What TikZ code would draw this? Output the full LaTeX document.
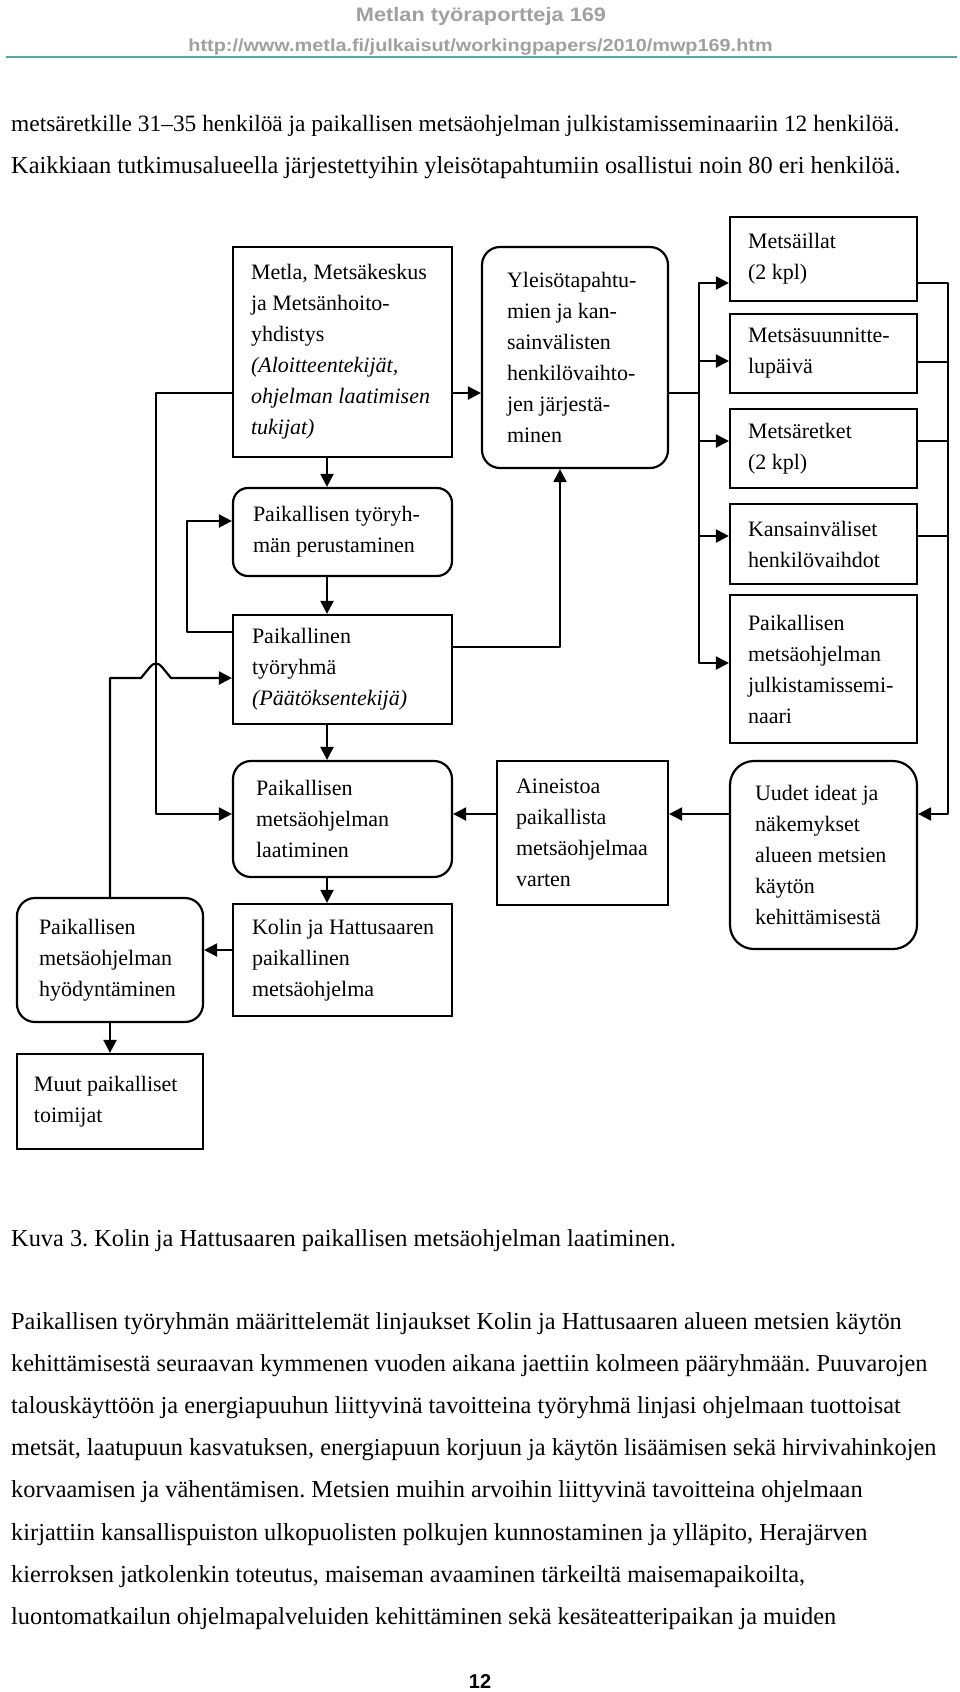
\documentclass[tikz,border=0pt]{standalone}
\usepackage{fontspec}
\setmainfont{Liberation Serif}
\newfontfamily\hdrfont{Liberation Sans}
\usetikzlibrary{arrows.meta}
\definecolor{hdrgray}{RGB}{160,160,160}
\definecolor{hdrteal}{RGB}{90,165,155}
\frenchspacing
\hyphenpenalty=10000
\exhyphenpenalty=10000
\tikzset{
  bx/.style={draw, line width=2.2pt, font=\fontsize{22}{31}\selectfont, align=flush left, inner ysep=0pt},
  rbx/.style={bx, rounded corners=18pt},
  arr/.style={line width=2.2pt, line join=round, -{Triangle[length=13pt,width=13pt]}},
  ln/.style={line width=2.2pt},
  body/.style={anchor=base west, inner sep=0pt, font=\fontsize{24.35}{26}\selectfont},
  hdr/.style={anchor=base, inner sep=0pt, text=hdrgray},
}
\begin{document}
\begin{tikzpicture}[x=1pt,y=-1pt]
\fill[white] (0,0) rectangle (960,1692);
\useasboundingbox (0,0) rectangle (960,1692);

% header
\node[hdr, font=\hdrfont\bfseries\fontsize{19.5}{20}\selectfont] (title) at (481,21) {\scalebox{1.115}[1]{Metlan työraportteja 169}};
\node[hdr, font=\hdrfont\bfseries\fontsize{17.5}{18}\selectfont] (url) at (480.5,51) {\scalebox{1.135}[1]{http://www.metla.fi/julkaisut/workingpapers/2010/mwp169.htm}};
\coordinate (hl) at (6,57);
\coordinate (hr) at (957,57);
\draw[hdrteal, line width=2pt] (hl) -- (hr);

% text above figure
\node[body, font=\fontsize{23.4}{26}\selectfont] (b1) at (11,131) {metsäretkille 31–35 henkilöä ja paikallisen metsäohjelman julkistamisseminaariin 12 henkilöä.};
\node[body] (b2) at (11,173) {Kaikkiaan tutkimusalueella järjestettyihin yleisötapahtumiin osallistui noin 80 eri henkilöä.};

% boxes
\node[bx, minimum width=219pt, minimum height=210pt, text width=183pt, inner xsep=18pt] (metla) at (342.5,352)
  {Metla, Metsäkeskus\\ja Metsänhoito-\\yhdistys\\\textit{(Aloitteentekijät,}\\\textit{ohjelman laatimisen}\\\textit{tukijat)}};
\node[rbx, minimum width=186pt, minimum height=221pt, text width=136pt, inner xsep=25pt] (yleiso) at (575,357.5)
  {Yleisötapahtu-\\mien ja kan-\\sainvälisten\\henkilövaihto-\\jen järjestä-\\minen};
\node[bx, minimum width=187pt, minimum height=84pt, text width=151pt, inner xsep=18pt] (illat) at (823.5,259)
  {Metsäillat\\(2 kpl)};
\node[bx, minimum width=187pt, minimum height=79pt, text width=151pt, inner xsep=18pt] (suunn) at (823.5,353.5)
  {Metsäsuunnitte-\\lupäivä};
\node[bx, minimum width=187pt, minimum height=79pt, text width=151pt, inner xsep=18pt] (retket) at (823.5,448.5)
  {Metsäretket\\(2 kpl)};
\node[bx, minimum width=187pt, minimum height=80pt, text width=151pt, inner xsep=18pt] (kans) at (823.5,544)
  {Kansainväliset\\henkilövaihdot};
\node[bx, minimum width=187pt, minimum height=148pt, text width=151pt, inner xsep=18pt] (julk) at (823.5,669)
  {Paikallisen\\metsäohjelman\\julkistamissemi-\\naari};
\node[rbx, rounded corners=15pt, minimum width=219pt, minimum height=88pt, text width=179pt, inner xsep=20pt] (perus) at (342.5,532)
  {Paikallisen työryh-\\män perustaminen};
\node[bx, minimum width=219pt, minimum height=109pt, text width=181pt, inner xsep=19pt] (tyor) at (342.5,669.5)
  {Paikallinen\\työryhmä\\\textit{(Päätöksentekijä)}};
\node[rbx, minimum width=219pt, minimum height=116pt, text width=173pt, inner xsep=23pt] (laat) at (342.5,819)
  {Paikallisen\\metsäohjelman\\laatiminen};
\node[bx, minimum width=219pt, minimum height=112pt, text width=181pt, inner xsep=19pt] (kolin) at (342.5,960)
  {\mbox{Kolin ja Hattusaaren}\\paikallinen\\metsäohjelma};
\node[rbx, minimum width=186pt, minimum height=124pt, text width=142pt, inner xsep=22pt] (hyod) at (110,960)
  {Paikallisen\\metsäohjelman\\hyödyntäminen};
\node[bx, minimum width=186pt, minimum height=95pt, text width=152pt, inner xsep=17pt] (muut) at (110,1101.5)
  {Muut paikalliset\\toimijat};
\node[bx, minimum width=171pt, minimum height=144pt, text width=133pt, inner xsep=19pt] (aine) at (582.5,833)
  {Aineistoa\\paikallista\\metsäohjelmaa\\varten};
\node[rbx, rounded corners=24pt, minimum width=187pt, minimum height=188pt, text width=137pt, inner xsep=25pt] (uudet) at (823.5,855)
  {Uudet ideat ja\\näkemykset\\alueen metsien\\käytön\\kehittämisestä};

% connectors
\draw[arr] (metla.east |- 0,393) -- (yleiso.west |- 0,393);
\draw[arr] (metla.south -| 327,0) -- (perus.north -| 327,0);
\draw[arr] (perus.south -| 327,0) -- (tyor.north -| 327,0);
\draw[arr] (tyor.south -| 327,0) -- (laat.north -| 327,0);
\draw[arr] (laat.south -| 327,0) -- (kolin.north -| 327,0);
\draw[arr] (metla.west |- 0,393) -| (156,814) -- (laat.west |- 0,814);
\draw[arr] (tyor.west |- 0,632) -| (187,521) -- (perus.west |- 0,521);
\draw[arr] (hyod.north) -- (110,678) -- (141,678) -- (150,667) .. controls (153,662.5) and (159,662.5) .. (162,667) -- (171,678) -- (tyor.west |- 0,678);
\draw[arr] (tyor.east |- 0,647) -| (yleiso.south -| 560,0);
\draw[arr] (yleiso.east |- 0,393) -- (699,393) |- (illat.west |- 0,283);
\draw[arr] (yleiso.east |- 0,393) -- (699,393) |- (suunn.west |- 0,361);
\draw[arr] (yleiso.east |- 0,393) -- (699,393) |- (retket.west |- 0,441);
\draw[arr] (yleiso.east |- 0,393) -- (699,393) |- (kans.west |- 0,536);
\draw[arr] (yleiso.east |- 0,393) -- (699,393) |- (julk.west |- 0,663);
\draw[arr] (illat.east |- 0,283) -| (948,814) -- (uudet.east |- 0,814);
\draw[ln] (suunn.east |- 0,362) -- (948,362);
\draw[ln] (retket.east |- 0,441) -- (948,441);
\draw[ln] (kans.east |- 0,536) -- (948,536);
\draw[arr] (uudet.west |- 0,814) -- (aine.east |- 0,814);
\draw[arr] (aine.west |- 0,814) -- (laat.east |- 0,814);
\draw[arr] (kolin.west |- 0,950) -- (hyod.east |- 0,950);
\draw[arr] (hyod.south) -- (muut.north);

% caption and body text
\node[body] (cap) at (11,1246) {Kuva 3. Kolin ja Hattusaaren paikallisen metsäohjelman laatiminen.};
\node[body] (p1) at (11,1329) {Paikallisen työryhmän määrittelemät linjaukset Kolin ja Hattusaaren alueen metsien käytön};
\node[body] (p2) at (11,1371) {kehittämisestä seuraavan kymmenen vuoden aikana jaettiin kolmeen pääryhmään. Puuvarojen};
\node[body] (p3) at (11,1413) {talouskäyttöön ja energiapuuhun liittyvinä tavoitteina työryhmä linjasi ohjelmaan tuottoisat};
\node[body] (p4) at (11,1455) {metsät, laatupuun kasvatuksen, energiapuun korjuun ja käytön lisäämisen sekä hirvivahinkojen};
\node[body] (p5) at (11,1497) {korvaamisen ja vähentämisen. Metsien muihin arvoihin liittyvinä tavoitteina ohjelmaan};
\node[body] (p6) at (11,1540) {kirjattiin kansallispuiston ulkopuolisten polkujen kunnostaminen ja ylläpito, Herajärven};
\node[body] (p7) at (11,1582) {kierroksen jatkolenkin toteutus, maiseman avaaminen tärkeiltä maisemapaikoilta,};
\node[body] (p8) at (11,1624) {luontomatkailun ohjelmapalveluiden kehittäminen sekä kesäteatteripaikan ja muiden};

\node[anchor=base, inner sep=0pt, font=\hdrfont\bfseries\fontsize{20}{20}\selectfont] (pnum) at (480,1688) {12};
\end{tikzpicture}
\end{document}
